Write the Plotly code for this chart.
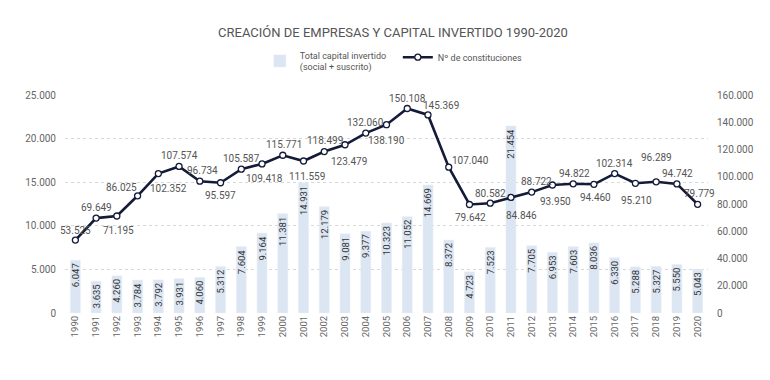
import plotly.graph_objects as go

years = list(range(1990, 2021))
capital = [6047, 3635, 4260, 3784, 3792, 3931, 4060, 5312, 7604, 9164,
           11381, 14931, 12179, 9081, 9377, 10323, 11052, 14669, 8372, 4723,
           7523, 21454, 7705, 6953, 7603, 8036, 6330, 5288, 5327, 5550, 5043]
constituciones = [53525, 69649, 71195, 86025, 102352, 107574, 96734, 95597, 105587, 109418,
                  115771, 111559, 118499, 123479, 132060, 138190, 150108, 145369, 107040, 79642,
                  80582, 84846, 88722, 93950, 94822, 94460, 102314, 95210, 96289, 94742, 79779]
left_ticks = [0, 5000, 10000, 15000, 20000, 25000]
right_ticks = [0, 20000, 40000, 60000, 80000, 100000, 120000, 140000, 160000]

# label offsets (style): (dx, dy) in px, dy positive = up
label_shift = [(0, 10), (0, 11), (2, -14), (-16, 8), (10, -15), (0, 11), (3, 11), (0, -13),
               (0, 11), (2, -15), (1, 11), (3, -15), (1, 11), (4, -17), (0, 11), (0, -16),
               (0, 10), (13, 9), (22, 7), (1, -13), (0, 10), (11, -18), (5, 11), (3, -17),
               (1, 10), (2, -13), (0, 10), (1, -17), (0, 24), (1, 10), (2, 11)]

FONT = "Roboto, sans-serif"
NAVY = "#141b38"

def fmt(v):
    return f"{v:,}".replace(",", ".")

fig = go.Figure()
fig.add_trace(go.Bar(
    x=years, y=capital, name="Total capital invertido<br>(social + suscrito)",
    marker=dict(color="#dce6f2"), yaxis="y",
    texttemplate="%{y:,}", textposition="inside", insidetextanchor="end",
    textangle=-90, textfont=dict(family=FONT, size=9.5, color="#333333"),
))
fig.add_trace(go.Scatter(
    x=years, y=constituciones, name="Nº de constituciones", yaxis="y2",
    mode="lines+markers", line=dict(color=NAVY, width=2.6),
    marker=dict(symbol="circle", size=6, color="white", line=dict(color=NAVY, width=1.3)),
))

annotations = []
for yr, v, (dx, dy) in zip(years, constituciones, label_shift):
    annotations.append(dict(
        x=yr, y=v, xref="x", yref="y2", text=fmt(v), showarrow=False,
        xshift=dx, yshift=dy, font=dict(family=FONT, size=10, color="#555555"),
    ))

fig.update_layout(
    width=770, height=380,
    margin=dict(l=57, r=70, t=87, b=75),
    paper_bgcolor="white", plot_bgcolor="white",
    separators=",.",
    title=dict(text="CREACIÓN DE EMPRESAS Y CAPITAL INVERTIDO 1990-2020",
               x=0.5, xanchor="center", y=1 - 24 / 380, yanchor="middle",
               font=dict(family=FONT, size=13, color="#555555")),
    legend=dict(orientation="h", x=0.303, xanchor="left", y=1.24, yanchor="top",
                font=dict(family=FONT, size=9, color="#555555"),
                itemwidth=30, entrywidth=93, bgcolor="rgba(0,0,0,0)"),
    bargap=0.52,
    uniformtext=dict(minsize=9.5, mode="show"),
    xaxis=dict(range=[1989.5, 2020.5], tickvals=years, tickangle=-90, showgrid=False,
               showline=False, zeroline=False, ticks="",
               tickfont=dict(family=FONT, size=9.5, color="#666666")),
    yaxis=dict(range=[0, 25000], tickvals=left_ticks, tickformat=",d",
               showgrid=True, gridcolor="#d8d8d8", griddash="dot", gridwidth=1,
               zeroline=False, ticklabelstandoff=8,
               tickfont=dict(family=FONT, size=10, color="#666666")),
    yaxis2=dict(range=[0, 160000], tickvals=right_ticks, tickformat=",d",
                overlaying="y", side="right", showgrid=False, zeroline=False,
                ticklabelstandoff=8,
                tickfont=dict(family=FONT, size=10, color="#666666")),
    annotations=annotations,
    showlegend=True,
)

fig.write_html("out.html")
